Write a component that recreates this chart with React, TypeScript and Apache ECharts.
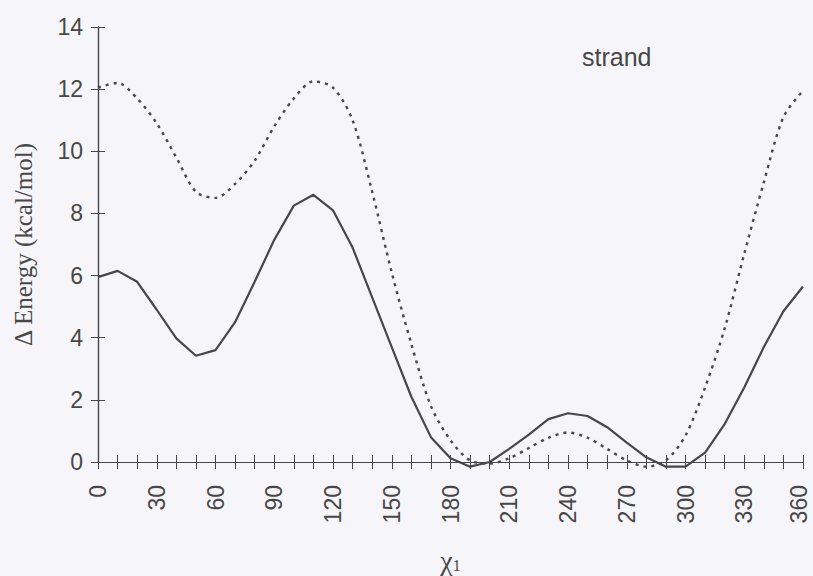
import React, { useEffect, useRef } from "react";
import * as echarts from "echarts";

const angles = [0, 10, 20, 30, 40, 50, 60, 70, 80, 90, 100, 110, 120, 130, 140, 150, 160, 170, 180, 190, 200, 210, 220, 230, 240, 250, 260, 270, 280, 290, 300, 310, 320, 330, 340, 350, 360];
const solidValues = [5.95, 6.15, 5.8, 4.9, 3.98, 3.42, 3.6, 4.5, 5.8, 7.15, 8.25, 8.6, 8.1, 6.9, 5.3, 3.7, 2.1, 0.8, 0.12, -0.15, 0.0, 0.42, 0.88, 1.38, 1.57, 1.48, 1.12, 0.62, 0.15, -0.15, -0.15, 0.3, 1.22, 2.4, 3.7, 4.85, 5.65];
const dottedValues = [12.05, 12.2, 11.7, 10.9, 9.8, 8.7, 8.5, 8.95, 9.7, 10.8, 11.7, 12.25, 12.05, 11.0, 8.7, 6.1, 3.8, 1.8, 0.7, 0.05, -0.05, 0.12, 0.45, 0.78, 0.95, 0.78, 0.42, 0.05, -0.15, 0.05, 0.85, 2.4, 4.3, 6.7, 9.0, 11.1, 11.95];
const yTicks = { min: 0, max: 14, interval: 2 };
const xTicks = { min: 0, max: 360, interval: 10, labelEvery: 30 };

const INK = "#474747";

export default function App() {
  const ref = useRef<HTMLDivElement>(null);
  useEffect(() => {
    if (!ref.current) return;
    const chart = echarts.init(ref.current, null, { renderer: "svg" });
    const xBase = {
      type: "value" as const,
      min: xTicks.min,
      max: xTicks.max,
      interval: xTicks.interval,
      splitLine: { show: false },
      axisLine: { show: true, onZero: false, lineStyle: { color: INK, width: 1.2 } },
    };
    const yBase = {
      type: "value" as const,
      min: yTicks.min,
      max: yTicks.max,
      interval: yTicks.interval,
      splitLine: { show: false },
      axisLine: { show: true, onZero: false, lineStyle: { color: INK, width: 1.2 } },
    };
    chart.setOption({
      animation: false,
      backgroundColor: "transparent",
      grid: { left: 98, right: 10, top: 27, bottom: 114, containLabel: false, outerBoundsMode: "none" },
      xAxis: [
        {
          ...xBase,
          position: "bottom",
          axisTick: { show: true, inside: false, length: 7, lineStyle: { color: INK, width: 1 } },
          axisLabel: {
            rotate: 90,
            margin: 23,
            fontSize: 23,
            lineHeight: 16,
            color: INK,
            fontFamily: "Liberation Sans, Arial, sans-serif",
            formatter: (v: number) =>
              v % xTicks.labelEvery !== 0 ? "" : v === xTicks.max ? `{e|${v}}` : String(v),
            rich: {
              e: {
                fontSize: 23,
                lineHeight: 16,
                color: INK,
                fontFamily: "Liberation Sans, Arial, sans-serif",
                padding: [0, 0, 8, 0],
              },
            },
          },
          name: "{c|χ}{s|1}",
          nameLocation: "middle",
          nameGap: 84,
          nameTextStyle: {
            rich: {
              c: { fontSize: 28, fontFamily: "Liberation Serif, Times New Roman, serif", color: INK },
              s: { fontSize: 16, fontFamily: "Liberation Serif, Times New Roman, serif", color: INK, padding: [10, 0, 0, 0] },
            },
          },
        },
        {
          ...xBase,
          position: "bottom",
          axisTick: { show: true, inside: true, length: 7, lineStyle: { color: INK, width: 1 } },
          axisLabel: { show: false },
        },
      ],
      yAxis: [
        {
          ...yBase,
          position: "left",
          axisTick: { show: true, inside: false, length: 7, lineStyle: { color: INK, width: 1 } },
          axisLabel: {
            margin: 15,
            fontSize: 23,
            color: INK,
            fontFamily: "Liberation Sans, Arial, sans-serif",
          },
          name: "Δ Energy (kcal/mol)",
          nameLocation: "middle",
          nameRotate: 90,
          nameGap: 62,
          nameTextStyle: {
            fontSize: 25,
            fontFamily: "Liberation Serif, Times New Roman, serif",
            color: INK,
          },
        },
        {
          ...yBase,
          position: "left",
          axisTick: { show: true, inside: true, length: 7, lineStyle: { color: INK, width: 1 } },
          axisLabel: { show: false },
        },
      ],
      graphic: [
        {
          type: "text",
          left: 582,
          top: 44,
          style: {
            text: "strand",
            fontSize: 25,
            fontFamily: "Liberation Sans, Arial, sans-serif",
            fill: INK,
          },
        },
      ],
      series: [
        {
          type: "line",
          xAxisIndex: 0,
          yAxisIndex: 0,
          data: angles.map((a, i) => [a, solidValues[i]]),
          showSymbol: false,
          clip: false,
          lineStyle: { color: INK, width: 2.2 },
        },
        {
          type: "line",
          xAxisIndex: 0,
          yAxisIndex: 0,
          data: angles.map((a, i) => [a, dottedValues[i]]),
          showSymbol: false,
          clip: false,
          smooth: 0.3,
          lineStyle: { color: INK, width: 2.4, type: [3, 5] },
        },
      ],
    });
    return () => chart.dispose();
  }, []);
  return (
    <div
      style={{ position: "fixed", left: 0, top: 0, width: 813, height: 576, background: "#f6f6fa" }}
    >
      <div ref={ref} style={{ width: 813, height: 576 }} />
    </div>
  );
}
